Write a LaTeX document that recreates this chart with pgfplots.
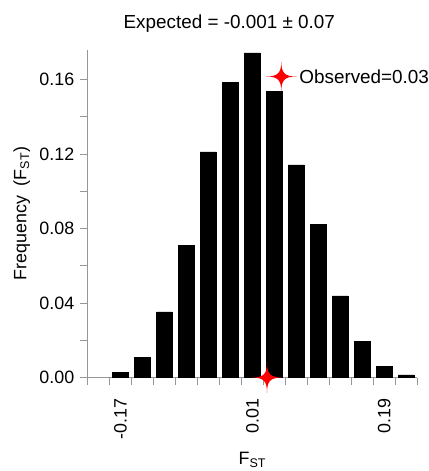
\documentclass[border=0pt]{standalone}
\usepackage{fontspec}
\setmainfont{Liberation Sans}
\usepackage{pgfplots}
\pgfplotsset{compat=1.18}

% four-pointed star with concave sides
\pgfdeclareplotmark{star4}{%
  \pgfpathmoveto{\pgfqpoint{0pt}{\pgfplotmarksize}}%
  \pgfpathcurveto{\pgfqpoint{0pt}{0.22\pgfplotmarksize}}{\pgfqpoint{0.22\pgfplotmarksize}{0pt}}{\pgfqpoint{\pgfplotmarksize}{0pt}}%
  \pgfpathcurveto{\pgfqpoint{0.22\pgfplotmarksize}{0pt}}{\pgfqpoint{0pt}{-0.22\pgfplotmarksize}}{\pgfqpoint{0pt}{-\pgfplotmarksize}}%
  \pgfpathcurveto{\pgfqpoint{0pt}{-0.22\pgfplotmarksize}}{\pgfqpoint{-0.22\pgfplotmarksize}{0pt}}{\pgfqpoint{-\pgfplotmarksize}{0pt}}%
  \pgfpathcurveto{\pgfqpoint{-0.22\pgfplotmarksize}{0pt}}{\pgfqpoint{0pt}{0.22\pgfplotmarksize}}{\pgfqpoint{0pt}{\pgfplotmarksize}}%
  \pgfpathclose\pgfusepathqfill}

\definecolor{axisgray}{RGB}{150,150,150}

\begin{document}
\begin{tikzpicture}
\fontsize{18}{21}\selectfont
\begin{axis}[
    scale only axis,
    width=332pt, height=330pt,
    xmin=-0.215, xmax=0.235,
    ymin=0, ymax=0.176,
    clip=false,
    axis x line*=bottom,
    axis y line*=left,
    axis line style={-, axisgray, line width=0.8pt},
    tick style={axisgray, line width=0.8pt},
    tick align=outside,
    major tick length=7pt,
    minor tick length=7pt,
    ytick={0,0.04,0.08,0.12,0.16},
    minor ytick={0.02,0.06,0.10,0.14},
    yticklabel style={/pgf/number format/.cd, fixed, fixed zerofill, precision=2,
        /pgf/number format/assume math mode=true},
    % bin edges carry the tick marks, bin centres carry the labels
    xtick={-0.215,-0.185,-0.155,-0.125,-0.095,-0.065,-0.035,-0.005,0.025,0.055,0.085,0.115,0.145,0.175,0.205,0.235},
    xticklabel={\empty},
    extra x ticks={-0.17,0.01,0.19},
    extra x tick labels={-0.17,0.01,0.19},
    extra x tick style={major tick length=0pt,
        xticklabel style={rotate=90, anchor=east, xshift=-15pt}},
    ticklabel style={font=\fontsize{18}{21}\selectfont},
    label style={font=\fontsize{18}{21}\selectfont},
    title style={font=\fontsize{19}{22}\selectfont, at={(axis description cs:0.43,1.079)}, anchor=center, yshift=-6pt},
    title={Expected = -0.001 ± 0.07},
    ylabel={Frequency\ \ (F\textsubscript{ST})},
    ylabel style={at={(axis description cs:-0.199,0.5)}, anchor=center},
    xlabel={F\textsubscript{ST}},
    xlabel style={at={(axis description cs:0.5,-0.2515)}, anchor=center},
    ybar, bar width=0.0215,
]
\addplot[fill=black, draw=black, line width=0.3pt] coordinates {
    (-0.17,0.0028) (-0.14,0.0107) (-0.11,0.0353) (-0.08,0.0709)
    (-0.05,0.1212) (-0.02,0.1583) (0.01,0.1743) (0.04,0.1538)
    (0.07,0.1142) (0.10,0.0824) (0.13,0.0438) (0.16,0.0193)
    (0.19,0.0062) (0.22,0.0014)
};
% observed value markers
\addplot[only marks, mark=star4, mark size=15.5pt, red, forget plot] coordinates {
    (0.03,0) (0.0495,0.1616)
};
\node[anchor=west, inner sep=0pt, font=\fontsize{19}{22}\selectfont] at (axis cs:0.0495,0.1616) [xshift=18pt] {Observed=0.03};
\coordinate (bbsw) at (axis description cs:-0.265,-0.285);
\coordinate (bbne) at (axis description cs:1.035,1.1515);
\end{axis}
\pgfresetboundingbox
\useasboundingbox (bbsw) rectangle (bbne);
\end{tikzpicture}
\end{document}
